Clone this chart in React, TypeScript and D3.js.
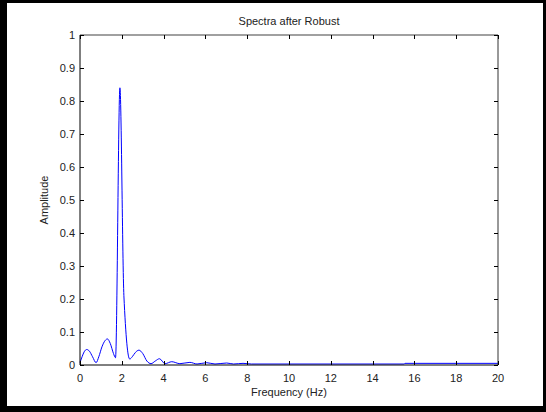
import { useEffect, useRef } from 'react';
import * as d3 from 'd3';

// spectrum (Hz, amplitude)
const freqs = [0, 0.1, 0.2, 0.32, 0.45, 0.6, 0.77, 0.9, 1.05, 1.2, 1.31, 1.45, 1.6, 1.7, 1.91, 2.1, 2.38, 2.5, 2.65, 2.82, 3.0, 3.2, 3.4, 3.6, 3.8, 4.07, 4.39, 4.78, 5.26, 5.6, 6.06, 6.46, 7.02, 7.35, 7.8, 8.2, 15.5, 15.55, 20];
const amps = [0.008, 0.025, 0.04, 0.047, 0.042, 0.025, 0.007, 0.025, 0.055, 0.074, 0.079, 0.065, 0.035, 0.022, 0.84, 0.21, 0.018, 0.025, 0.038, 0.045, 0.035, 0.012, 0.004, 0.012, 0.019, 0.004, 0.01, 0.004, 0.008, 0.003, 0.007, 0.003, 0.006, 0.003, 0.005, 0.003, 0.003, 0.005, 0.005];

const xTicks = [0, 2, 4, 6, 8, 10, 12, 14, 16, 18, 20];
const yTicks = [0, 0.1, 0.2, 0.3, 0.4, 0.5, 0.6, 0.7, 0.8, 0.9, 1];

const W = 546;
const H = 412;
const margin = { left: 80, right: 48, top: 35, bottom: 47 };
const FONT = '"Liberation Sans", Arial, sans-serif';

export default function App() {
  const svgRef = useRef<SVGSVGElement>(null);

  useEffect(() => {
    document.body.style.margin = '0';
    if (!svgRef.current) return;
    const svg = d3.select(svgRef.current);
    svg.selectAll('*').remove();

    // window frame
    svg.append('rect').attr('width', W).attr('height', H).attr('fill', '#000');
    svg.append('rect').attr('x', 7).attr('y', 3).attr('width', 536).attr('height', 403).attr('fill', '#fff');

    const x0 = margin.left, x1 = W - margin.right;
    const y0 = H - margin.bottom, y1 = margin.top;
    const x = d3.scaleLinear().domain([0, 20]).range([x0, x1]);
    const y = d3.scaleLinear().domain([0, 1]).range([y0, y1]);

    const g = svg.append('g');

    // curve
    const pts = freqs.map((f, i) => [f, amps[i]] as [number, number]);
    const line = d3.line<[number, number]>()
      .x(d => x(d[0]))
      .y(d => y(d[1]))
      .curve(d3.curveMonotoneX);
    g.append('path')
      .attr('d', line(pts))
      .attr('fill', 'none')
      .attr('stroke', '#0000ff')
      .attr('stroke-width', 1);

    // box
    g.append('line').attr('x1', x0).attr('x2', x1).attr('y1', y1).attr('y2', y1)
      .attr('stroke', '#808080').attr('stroke-width', 1.5);
    g.append('line').attr('x1', x1).attr('x2', x1).attr('y1', y1).attr('y2', y0)
      .attr('stroke', '#333').attr('stroke-width', 1);
    g.append('line').attr('x1', x0).attr('x2', x0).attr('y1', y1).attr('y2', y0)
      .attr('stroke', '#000').attr('stroke-width', 1);
    g.append('line').attr('x1', x0).attr('x2', x1).attr('y1', y0).attr('y2', y0)
      .attr('stroke', '#000').attr('stroke-width', 1);

    const tl = 4;
    xTicks.forEach(t => {
      const px = Math.round(x(t)) + 0.5;
      g.append('line').attr('x1', px).attr('x2', px).attr('y1', y0).attr('y2', y0 - tl).attr('stroke', '#000');
      g.append('line').attr('x1', px).attr('x2', px).attr('y1', y1).attr('y2', y1 + tl).attr('stroke', '#000');
      g.append('text').attr('x', x(t)).attr('y', y0 + 17)
        .attr('text-anchor', 'middle').attr('font-family', FONT).attr('font-size', 11).attr('fill', '#222')
        .text(String(t));
    });
    yTicks.forEach(t => {
      const py = Math.round(y(t)) + 0.5;
      g.append('line').attr('x1', x0).attr('x2', x0 + tl).attr('y1', py).attr('y2', py).attr('stroke', '#000');
      g.append('line').attr('x1', x1).attr('x2', x1 - tl).attr('y1', py).attr('y2', py).attr('stroke', '#000');
      g.append('text').attr('x', x0 - 5).attr('y', y(t) + 4)
        .attr('text-anchor', 'end').attr('font-family', FONT).attr('font-size', 11).attr('fill', '#222')
        .text(String(t));
    });

    svg.append('text').attr('x', (x0 + x1) / 2).attr('y', 25)
      .attr('text-anchor', 'middle').attr('font-family', FONT).attr('font-size', 11).attr('fill', '#222')
      .text('Spectra after Robust');
    svg.append('text').attr('x', (x0 + x1) / 2).attr('y', 396)
      .attr('text-anchor', 'middle').attr('font-family', FONT).attr('font-size', 11).attr('fill', '#222')
      .text('Frequency (Hz)');
    svg.append('text')
      .attr('transform', `translate(48,${(y0 + y1) / 2}) rotate(-90)`)
      .attr('text-anchor', 'middle').attr('font-family', FONT).attr('font-size', 11).attr('fill', '#222')
      .text('Amplitude');
  }, []);

  return <svg ref={svgRef} width={W} height={H} style={{ display: 'block' }} />;
}
